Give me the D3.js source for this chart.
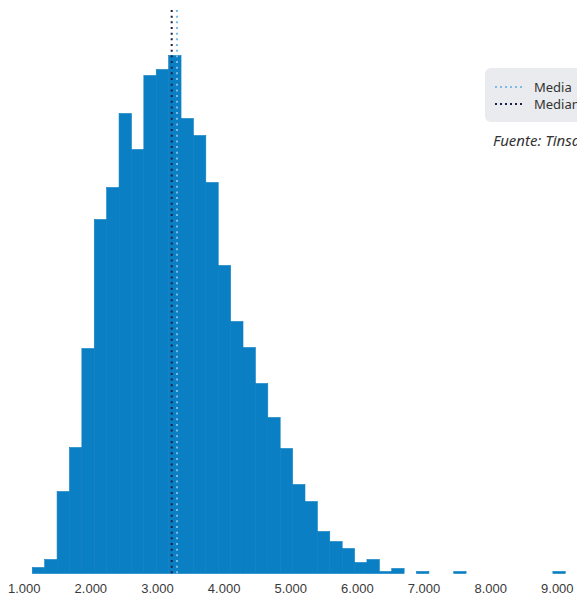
<!DOCTYPE html>
<html>
<head>
<meta charset="utf-8">
<script src="https://cdn.jsdelivr.net/npm/d3@7"></script>
<style>
  body { margin: 0; background: #fff; overflow: hidden; }
  svg { display: block; font-family: "Noto Sans", "Open Sans", sans-serif; }
</style>
</head>
<body>
<div id="chart"></div>
<script>
// bin setup (values in the x unit of the axis)
const binStart = 1129;
const binWidth = 186;
// frequency of each bin
const binCounts = [6, 14, 82, 126, 225, 354, 386, 460, 424, 498, 504, 518, 455, 438, 391,
                   308, 252, 226, 190, 156, 125, 89, 72, 42, 32, 25, 11, 14, 2, 5,
                   0, 2, 0, 0, 2, 0, 0, 0, 0, 0, 0, 0, 2];
const xTicks = [1000, 2000, 3000, 4000, 5000, 6000, 7000, 8000, 9000];
const meanValue = 3300;
const medianValue = 3221;
const legendLabels = ["Media", "Mediana"];
const sourceText = "Fuente: Tinsa";

const width = 577, height = 598;
const barColor = "#0b7fc3";
const meanColor = "#7dbce8";
const medianColor = "#1b2142";

const bins = binCounts.map((c, i) => ({
    x0: binStart + i * binWidth,
    x1: binStart + (i + 1) * binWidth,
    count: c
}));

const svg = d3.select("#chart")
    .append("svg")
    .attr("width", width)
    .attr("height", height);

const xScale = d3.scaleLinear()
    .domain([1000, 9000])
    .range([23.7, 556.8]);

const yScale = d3.scaleLinear()
    .domain([0, 518])
    .range([573.5, 55.5]);

// bars
svg.selectAll(".bar")
    .data(bins.filter(d => d.count > 0))
    .join("rect")
    .attr("class", "bar")
    .attr("x", d => xScale(d.x0))
    .attr("y", d => yScale(d.count))
    .attr("width", d => xScale(d.x1) - xScale(d.x0))
    .attr("height", d => yScale(0) - yScale(d.count))
    .attr("fill", barColor)
    .attr("stroke", barColor)
    .attr("stroke-width", 0.6);

// x axis (labels only)
const xAxis = svg.append("g")
    .attr("class", "x-axis")
    .attr("transform", `translate(0, ${yScale(0)})`)
    .call(d3.axisBottom(xScale)
        .tickValues(xTicks)
        .tickSize(0)
        .tickPadding(10)
        .tickFormat(d => d3.format(",")(d).replace(/,/g, ".")));

xAxis.select(".domain").remove();
xAxis.selectAll("text")
    .style("font-size", "13px")
    .style("fill", "#3a3a3a");

// mean and median reference lines
const refLines = [
    { value: medianValue, color: medianColor },
    { value: meanValue, color: meanColor }
];

svg.selectAll(".ref-line")
    .data(refLines)
    .join("line")
    .attr("class", "ref-line")
    .attr("x1", d => xScale(d.value))
    .attr("x2", d => xScale(d.value))
    .attr("y1", 10)
    .attr("y2", yScale(0))
    .attr("stroke", d => d.color)
    .attr("stroke-width", 2)
    .attr("stroke-dasharray", "2,3.67");

// legend
const legend = svg.append("g")
    .attr("transform", "translate(485, 68)");

legend.append("rect")
    .attr("width", 120)
    .attr("height", 54)
    .attr("rx", 6)
    .attr("fill", "#e9ebee");

const legendItems = legend.selectAll(".legend-item")
    .data([
        { label: legendLabels[0], color: meanColor },
        { label: legendLabels[1], color: medianColor }
    ])
    .join("g")
    .attr("class", "legend-item")
    .attr("transform", (d, i) => `translate(0, ${19 + i * 17})`);

legendItems.append("line")
    .attr("x1", 10)
    .attr("x2", 40)
    .attr("stroke", d => d.color)
    .attr("stroke-width", 2)
    .attr("stroke-dasharray", "2,3");

legendItems.append("text")
    .attr("x", 49)
    .attr("dy", "0.35em")
    .style("font-size", "13px")
    .style("fill", "#333")
    .text(d => d.label);

svg.append("text")
    .attr("x", 493)
    .attr("y", 146)
    .style("font-size", "15px")
    .style("font-style", "italic")
    .style("fill", "#333")
    .text(sourceText);
</script>
</body>
</html>
